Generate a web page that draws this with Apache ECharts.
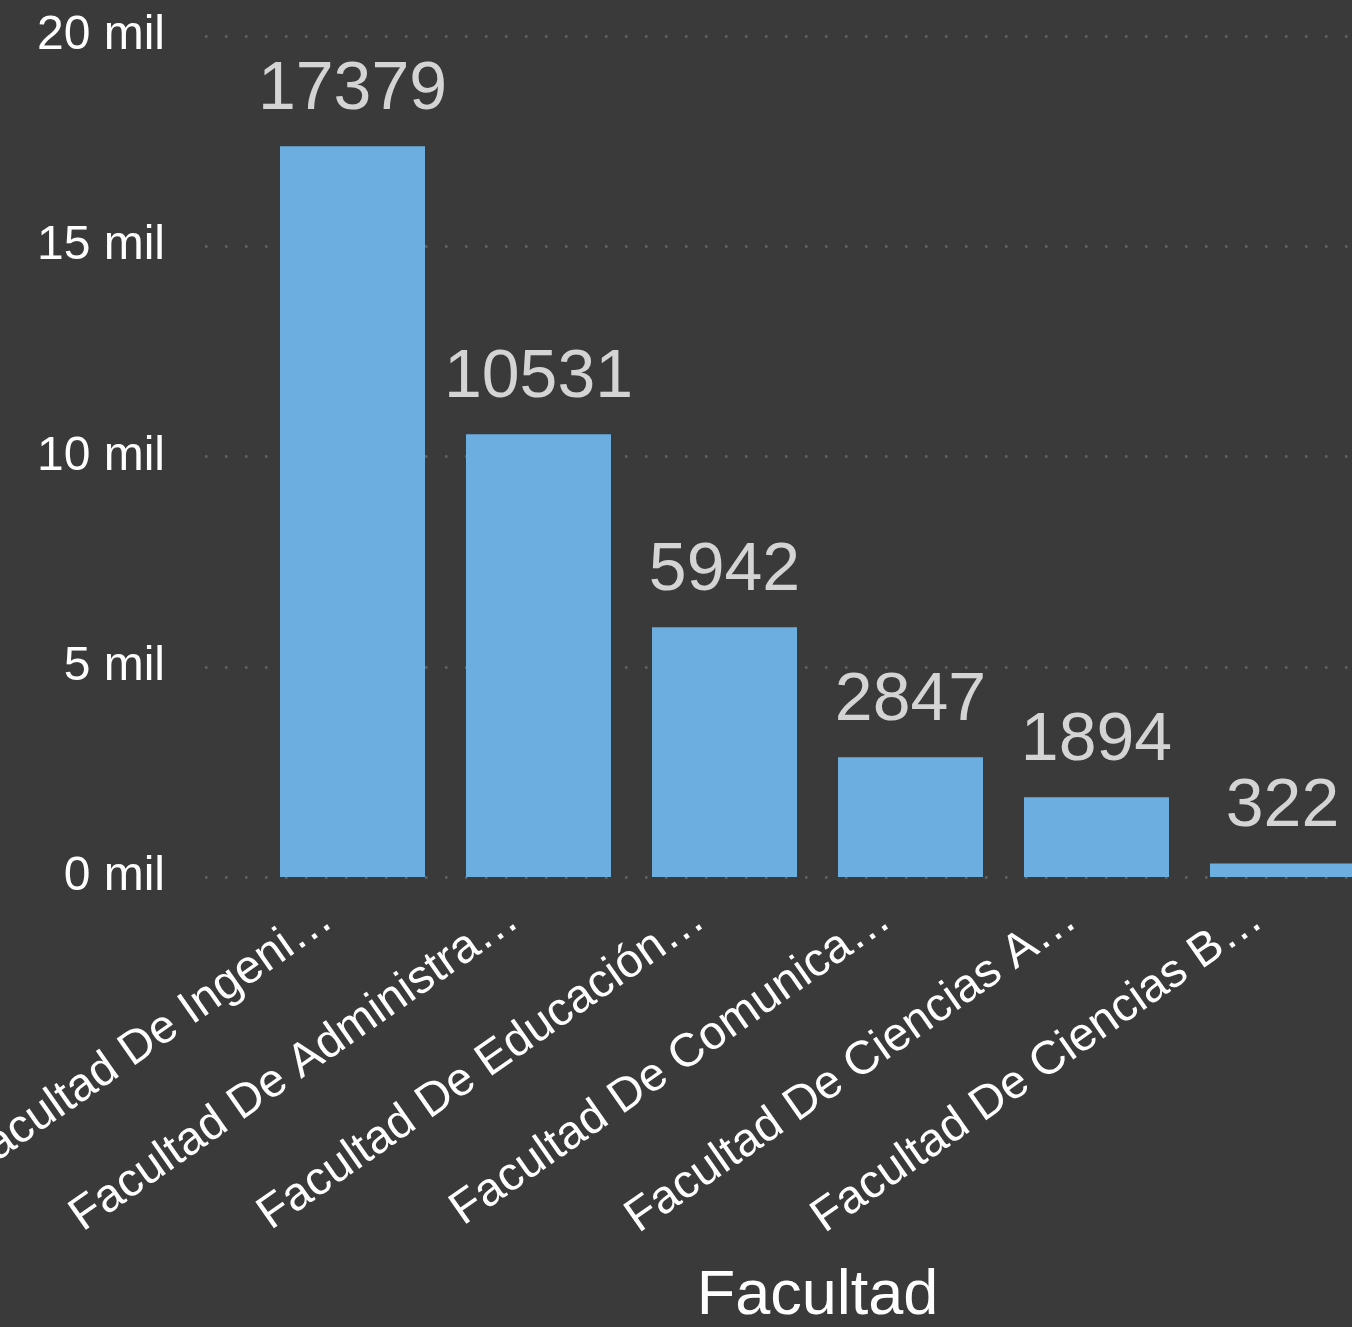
<!DOCTYPE html>
<html>
<head>
<meta charset="utf-8">
<script src="https://cdn.jsdelivr.net/npm/echarts@6/dist/echarts.min.js"></script>
<style>
html,body{margin:0;padding:0;background:#3a3a3a;}
#c{width:1352px;height:1327px;}
</style>
</head>
<body>
<div id="c"></div>
<script>
const categories = [
  "Facultad De Ingeni…",
  "Facultad De Administra…",
  "Facultad De Educación…",
  "Facultad De Comunica…",
  "Facultad De Ciencias A…",
  "Facultad De Ciencias B…"
];
const values = [17379, 10531, 5942, 2847, 1894, 322];
const yTicks = { min: 0, max: 20000, interval: 5000 };
const axisTitle = "Facultad";

const FONT = "'Liberation Sans', Arial, sans-serif";
const chart = echarts.init(document.getElementById('c'), null, { renderer: 'canvas' });
chart.setOption({
  backgroundColor: '#3a3a3a',
  animation: false,
  grid: [
    { left: 205, width: 1200, top: 36, height: 841, containLabel: false, outerBoundsMode: 'none' },
    { left: 259.5, width: 1116, top: 36, height: 841, containLabel: false, outerBoundsMode: 'none' }
  ],
  xAxis: [
    { gridIndex: 0, type: 'category', data: categories, show: false },
    {
      gridIndex: 1, type: 'category', data: categories,
      axisLine: { show: false }, axisTick: { show: false },
      axisLabel: {
        rotate: 35, color: '#ffffff', fontSize: 47, fontFamily: FONT,
        margin: 20, interval: 0, padding: [0, 30, 0, 0]
      },
      name: axisTitle, nameLocation: 'middle', nameGap: 388,
      nameTextStyle: { color: '#ffffff', fontSize: 63, fontFamily: FONT }
    }
  ],
  yAxis: [
    {
      gridIndex: 0, type: 'value', min: yTicks.min, max: yTicks.max, interval: yTicks.interval,
      axisLine: { show: false }, axisTick: { show: false },
      axisLabel: {
        color: '#ffffff', fontSize: 48, fontFamily: FONT, margin: 40,
        formatter: v => (v / 1000) + ' mil'
      },
      splitLine: { show: true, lineStyle: { color: '#646464', width: 2.5, type: [2.5, 17.5] } }
    },
    {
      gridIndex: 1, type: 'value', min: yTicks.min, max: yTicks.max, interval: yTicks.interval,
      show: false, splitLine: { show: false }
    }
  ],
  series: [{
    type: 'bar', xAxisIndex: 1, yAxisIndex: 1,
    data: values, barWidth: 145,
    itemStyle: { color: '#6daee0' },
    label: {
      show: true, position: 'top', distance: 22,
      color: '#d4d4d4', fontSize: 68, fontFamily: FONT
    }
  }]
});
</script>
</body>
</html>
